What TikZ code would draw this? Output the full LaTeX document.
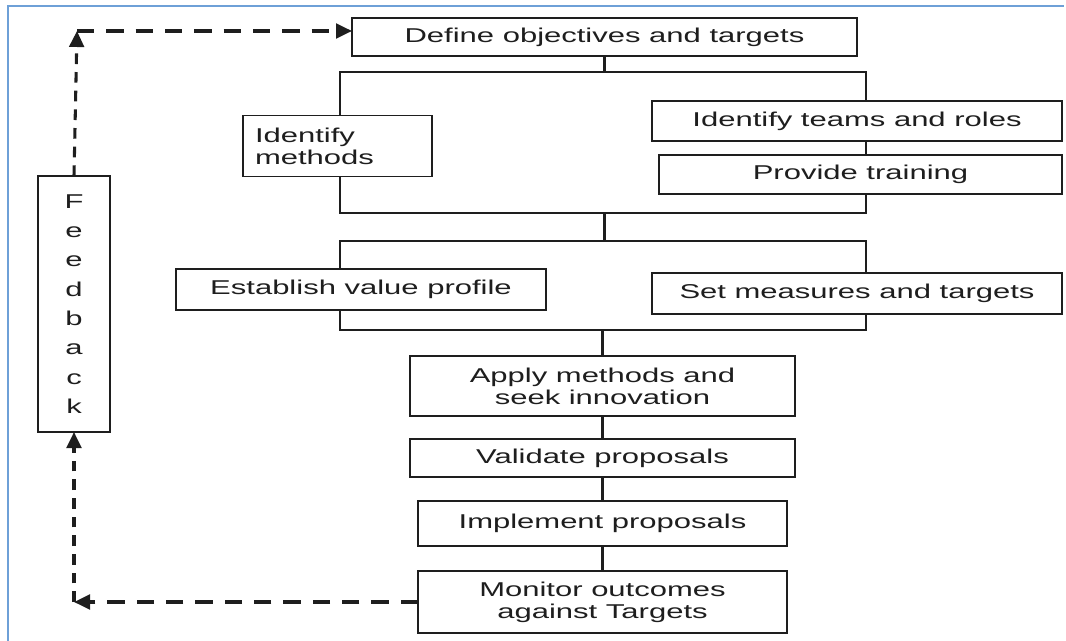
\documentclass[tikz,border=0pt]{standalone}
\usepackage{fontspec}
\setmainfont[FakeStretch=1.55]{Liberation Sans}
\usepackage{tikz}
\usetikzlibrary{arrows.meta, positioning, calc}
\definecolor{marcoAzul}{RGB}{110, 160, 215}
\definecolor{tinta}{RGB}{30, 30, 30}

\begin{document}
\begin{tikzpicture}[x=0.75pt, y=-0.75pt,
            stage/.style={rectangle, draw=tinta, line width=1.3pt, fill=white, inner sep=0pt, outer sep=0pt, align=center, text=tinta, font=\fontsize{15pt}{16.5pt}\selectfont},
            joint/.style={line width=2.1pt, tinta},
            loopback/.style={line width=2.3pt, tinta, dash pattern=on 13pt off 9pt},
            loopup/.style={line width=2.3pt, tinta, dash pattern=on 8pt off 6pt},
            tip/.style={-{Triangle[length=12pt, width=11pt]}}]

            \useasboundingbox (0,0) rectangle (1066,641);
            \draw[marcoAzul, line width=1.5pt] (8,641) -- (8,6) -- (1064,6);

            % brackets
            \coordinate (upA) at (340,72);
            \coordinate (upB) at (866,213);
            \coordinate (loA) at (340,241);
            \coordinate (loB) at (866,330);
            \draw[joint] (upA) rectangle (upB);
            \draw[joint] (loA) rectangle (loB);

            \node[stage, minimum width=378.75pt, minimum height=28.5pt] (define) at (604.5,37) {Define objectives and targets};
            \node[stage, minimum width=141.75pt, minimum height=45.75pt, align=left, text width=123.75pt] (methods) at (337.5,146) {Identify\\methods};
            \node[stage, minimum width=307.5pt, minimum height=30pt] (teams) at (857,121) {Identify teams and roles};
            \node[stage, minimum width=302.25pt, minimum height=29.25pt] (training) at (860.5,174.5) {Provide training};
            \node[stage, minimum width=277.5pt, minimum height=30.75pt] (value) at (361,289.5) {Establish value profile};
            \node[stage, minimum width=307.5pt, minimum height=30.75pt] (measures) at (857,293.5) {Set measures and targets};
            \node[stage, minimum width=288.75pt, minimum height=45pt] (apply) at (602.5,386) {Apply methods and\\seek innovation};
            \node[stage, minimum width=288.75pt, minimum height=28.5pt] (validate) at (602.5,458) {Validate proposals};
            \node[stage, minimum width=276.75pt, minimum height=33.75pt] (implement) at (602.5,523.5) {Implement proposals};
            \node[stage, minimum width=276.75pt, minimum height=46.5pt] (monitor) at (602.5,602) {Monitor outcomes\\against Targets};
            \node[stage, minimum width=54pt, minimum height=192pt, font=\fontsize{15pt}{22pt}\selectfont] (feedback) at (74,304) {F\\e\\e\\d\\b\\a\\c\\k};

            \draw[joint] (define.south) -- (define.south |- upA);
            \draw[joint] (define.south |- upB) -- (define.south |- loA);
            \draw[joint] (apply.north |- loB) -- (apply.north);
            \draw[joint] (apply.south) -- (validate.north);
            \draw[joint] (validate.south) -- (implement.north);
            \draw[joint] (implement.south) -- (monitor.north);

            % feedback loop
            \coordinate (lowCorner) at (feedback.south |- monitor.west);
            \coordinate (topCorner) at (77,31);
            \draw[loopback, tip] (monitor.west) -- (lowCorner);
            \draw[loopup, tip] (lowCorner) -- (feedback.south);
            \draw[loopup, tip] (feedback.north) -- (topCorner);
            \draw[loopback, tip] (topCorner) -- (define.west |- topCorner);
        \end{tikzpicture}
\end{document}
